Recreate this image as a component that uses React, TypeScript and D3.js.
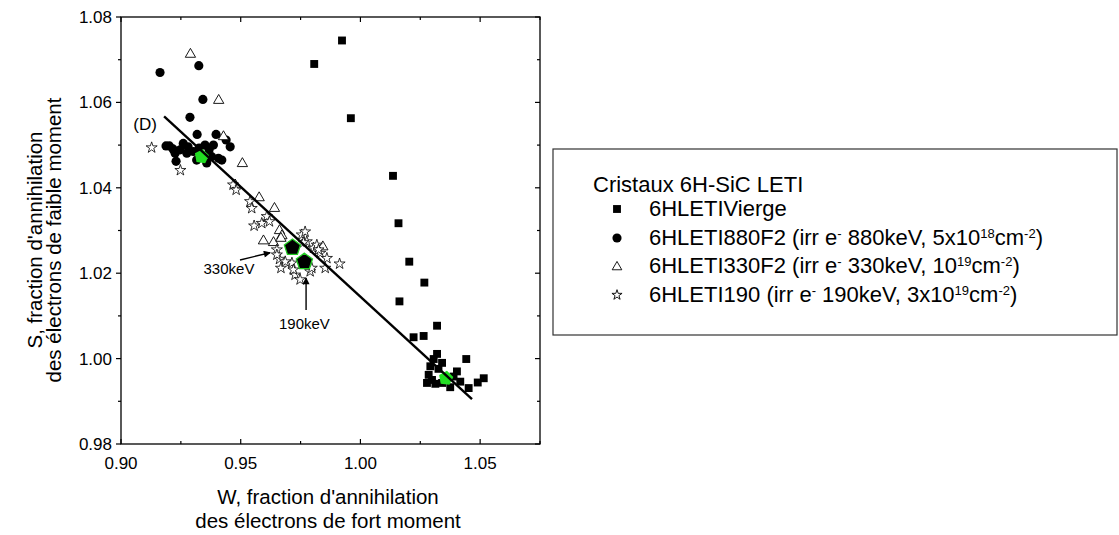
import React from "react";
import * as d3 from "d3";

// W (x) and S (y) values
const vierge: [number, number][] = [
  [0.9807, 1.069], [0.9923, 1.0745], [0.996, 1.0563], [1.0136, 1.0428], [1.0159, 1.0317],
  [1.0204, 1.0227], [1.0267, 1.0178], [1.0163, 1.0134], [1.032, 1.0077], [1.0222, 1.005],
  [1.0264, 1.0053], [1.0442, 0.9999], [1.032, 1.0011], [1.0306, 0.9999], [1.0341, 0.999],
  [1.0285, 0.9962], [1.0278, 0.9943], [1.0313, 0.9941], [1.0341, 0.9943], [1.0375, 0.9933],
  [1.0403, 0.997], [1.0417, 0.9946], [1.0452, 0.9931], [1.049, 0.9944], [1.0515, 0.9954],
  [1.0292, 0.9982], [1.0326, 0.9976], [1.0389, 0.9958], [1.0299, 0.995],
];
const irr880: [number, number][] = [
  [0.9163, 1.067], [0.9325, 1.0686], [0.9342, 1.0607], [0.9288, 1.0565], [0.9318, 1.0525],
  [0.9397, 1.0525], [0.9439, 1.0512], [0.9456, 1.0496], [0.9202, 1.0498], [0.9226, 1.0481],
  [0.923, 1.0462], [0.926, 1.0504], [0.9275, 1.0481], [0.9302, 1.0485], [0.9351, 1.05],
  [0.9386, 1.05], [0.9407, 1.0469], [0.9421, 1.0465], [0.9379, 1.0473], [0.9316, 1.0465],
  [0.9358, 1.0458], [0.9247, 1.0489], [0.928, 1.0496], [0.9326, 1.0493], [0.9368, 1.0489],
  [0.9188, 1.0498], [0.9217, 1.0491],
];
const irr330: [number, number][] = [
  [0.929, 1.0715], [0.9408, 1.0607], [0.9428, 1.0522], [0.9507, 1.0459], [0.9477, 1.0409],
  [0.9577, 1.0379], [0.9641, 1.0354], [0.9662, 1.0302], [0.9595, 1.0278], [0.9637, 1.0274],
  [0.9843, 1.0264], [0.9672, 1.029], [0.9668, 1.0284],
];
const irr190: [number, number][] = [
  [0.9128, 1.0494], [0.9248, 1.0441], [0.9468, 1.0407], [0.9481, 1.0395], [0.9539, 1.0368],
  [0.9546, 1.0352], [0.9609, 1.0333], [0.9588, 1.0317], [0.9556, 1.0311], [0.962, 1.0321],
  [0.9651, 1.0255], [0.9662, 1.0233], [0.9668, 1.0212], [0.9727, 1.0196], [0.979, 1.0204],
  [0.9755, 1.029], [0.9804, 1.0259], [0.9832, 1.0247], [0.986, 1.0235], [0.9853, 1.0212],
  [0.9913, 1.0222], [0.9714, 1.0224], [0.972, 1.0208], [0.9797, 1.0212], [0.9818, 1.0266],
  [0.9776, 1.0274], [0.9762, 1.0272], [0.9651, 1.0243], [0.9825, 1.0255], [0.9686, 1.0227],
  [0.9748, 1.0185], [0.9769, 1.0297],
];
// mean points
const meanEnds: [number, number][] = [[0.9337, 1.0473], [1.0357, 0.9954]];
const meanIrr: [number, number][] = [[0.9716, 1.026], [0.9766, 1.0227]];
// line (D)
const lineD: [number, number][] = [[0.918, 1.0567], [1.0466, 0.9905]];
// annotations: [label, textW, textS, fromW, fromS, toW, toS]
const annotations: [string, number, number, number, number, number, number][] = [
  ["330keV", 0.9451, 1.0197, 0.9497, 1.0231, 0.9623, 1.0248],
  ["190keV", 0.9766, 1.007, 0.9773, 1.0114, 0.9773, 1.0189],
];

const xMajor = [0.9, 0.95, 1.0, 1.05];
const xMinor = [0.925, 0.975, 1.025, 1.075];
const yMajor = [0.98, 1.0, 1.02, 1.04, 1.06, 1.08];
const yMinor = [0.99, 1.01, 1.03, 1.05, 1.07];

const legendTitle = "Cristaux 6H-SiC LETI";

const FONT = "'Liberation Sans', Arial, Helvetica, sans-serif";

export default function App() {
  const L = 121, R = 540, T = 17, B = 444;
  const x = d3.scaleLinear().domain([0.9, 1.075]).range([L, R]);
  const y = d3.scaleLinear().domain([0.98, 1.08]).range([B, T]);

  const sq = d3.symbol(d3.symbolSquare, 62)();
  const ci = d3.symbol(d3.symbolCircle, 66)();
  const tr = d3.symbol(d3.symbolTriangle, 46)();
  const st = d3.symbol(d3.symbolStar, 38)();
  const trL = d3.symbol(d3.symbolTriangle, 40)();
  const stL = d3.symbol(d3.symbolStar, 32)();

  const pent = (r: number) => {
    const pts: [number, number][] = d3.range(5).map((i) => {
      const a = -Math.PI / 2 + (i * 2 * Math.PI) / 5;
      return [r * Math.cos(a), r * Math.sin(a)];
    });
    return d3.line()(pts) + "Z";
  };

  const lineGen = d3.line<[number, number]>().x((d) => x(d[0])).y((d) => y(d[1]));
  const fmt = d3.format(".2f");

  const sup = (t: string) => (
    <tspan baselineShift="super" fontSize={13}>{t}</tspan>
  );

  const legX = 617, legTextX = 649;
  const legRows = [
    { y: 216, sym: "sq" },
    { y: 245, sym: "ci" },
    { y: 273, sym: "tr" },
    { y: 302, sym: "st" },
  ];

  return (
    <svg width={1119} height={535} style={{ position: "absolute", left: 0, top: 0, background: "#fff" }} fontFamily={FONT}>
      <defs>
        <marker id="arr" viewBox="0 0 10 10" refX="9" refY="5" markerWidth="9" markerHeight="7" markerUnits="userSpaceOnUse" orient="auto">
          <path d="M0,0 L10,5 L0,10 Z" fill="#000" />
        </marker>
      </defs>
      {/* frame */}
      <rect x={L} y={T} width={R - L} height={B - T} fill="none" stroke="#000" strokeWidth={1.3} />
      {/* ticks */}
      {xMajor.map((v) => (
        <g key={"xm" + v}>
          <line x1={x(v)} x2={x(v)} y1={B} y2={B - 5} stroke="#000" strokeWidth={1.2} />
          <line x1={x(v)} x2={x(v)} y1={T} y2={T + 5} stroke="#000" strokeWidth={1.2} />
          <text x={x(v)} y={469} textAnchor="middle" fontSize={17}>{fmt(v)}</text>
        </g>
      ))}
      {xMinor.map((v) => (
        <g key={"xn" + v}>
          <line x1={x(v)} x2={x(v)} y1={B} y2={B - 3} stroke="#000" strokeWidth={1.2} />
          <line x1={x(v)} x2={x(v)} y1={T} y2={T + 3} stroke="#000" strokeWidth={1.2} />
        </g>
      ))}
      {yMajor.map((v) => (
        <g key={"ym" + v}>
          <line x1={L} x2={L - 5} y1={y(v)} y2={y(v)} stroke="#000" strokeWidth={1.2} />
          <line x1={R} x2={R - 5} y1={y(v)} y2={y(v)} stroke="#000" strokeWidth={1.2} />
          <text x={112} y={y(v)} dy="0.35em" textAnchor="end" fontSize={17}>{fmt(v)}</text>
        </g>
      ))}
      {yMinor.map((v) => (
        <g key={"yn" + v}>
          <line x1={L} x2={L - 3} y1={y(v)} y2={y(v)} stroke="#000" strokeWidth={1.2} />
          <line x1={R} x2={R - 3} y1={y(v)} y2={y(v)} stroke="#000" strokeWidth={1.2} />
        </g>
      ))}
      {/* axis titles */}
      <text x={328} y={504} textAnchor="middle" fontSize={20.5}>W, fraction d'annihilation</text>
      <text x={328} y={528} textAnchor="middle" fontSize={20.5}>des électrons de fort moment</text>
      <g transform="translate(0,240) rotate(-90)">
        <text x={0} y={42} textAnchor="middle" fontSize={20.5}>S, fraction d'annihilation</text>
        <text x={0} y={61} textAnchor="middle" fontSize={20.5}>des électrons de faible moment</text>
      </g>

      {/* data */}
      {vierge.map((d, i) => (
        <path key={"v" + i} d={sq!} transform={`translate(${x(d[0])},${y(d[1])})`} fill="#000" />
      ))}
      {irr880.map((d, i) => (
        <path key={"c" + i} d={ci!} transform={`translate(${x(d[0])},${y(d[1])})`} fill="#000" />
      ))}
      {irr330.map((d, i) => (
        <path key={"t" + i} d={tr!} transform={`translate(${x(d[0])},${y(d[1]) + 1})`} fill="#fff" stroke="#000" strokeWidth={0.9} />
      ))}
      {irr190.map((d, i) => (
        <path key={"s" + i} d={st!} transform={`translate(${x(d[0])},${y(d[1])})`} fill="#fff" stroke="#000" strokeWidth={0.8} />
      ))}
      {/* mean points */}
      {meanEnds.map((d, i) => (
        <path key={"me" + i} d={pent(7.5)} transform={`translate(${x(d[0])},${y(d[1])}) rotate(8)`} fill="#22dd22" stroke="none" />
      ))}
      {meanIrr.map((d, i) => (
        <path key={"mi" + i} d={pent(8.5)} transform={`translate(${x(d[0])},${y(d[1])})`} fill="#000" stroke="#22cc22" strokeWidth={1.3} />
      ))}
      {/* line D */}
      <path d={lineGen(lineD)!} stroke="#000" strokeWidth={2.4} fill="none" />
      <text x={x(lineD[0][0]) - 19} y={y(lineD[0][1]) + 14} textAnchor="middle" fontSize={17}>(D)</text>

      {/* annotations */}
      {annotations.map((a) => (
        <g key={a[0]}>
          <line x1={x(a[3])} y1={y(a[4])} x2={x(a[5])} y2={y(a[6])} stroke="#000" strokeWidth={1.4} markerEnd="url(#arr)" />
          <text x={x(a[1])} y={y(a[2])} textAnchor="middle" fontSize={15}>{a[0]}</text>
        </g>
      ))}

      {/* legend */}
      <rect x={553} y={149} width={564} height={186} fill="#fff" stroke="#333" strokeWidth={1.2} />
      <text x={593} y={192} fontSize={22}>{legendTitle}</text>
      {legRows.map((r) => {
        const cy = r.y - 7;
        const d = r.sym === "sq" ? sq : r.sym === "ci" ? ci : r.sym === "tr" ? trL : stL;
        const filled = r.sym === "sq" || r.sym === "ci";
        return (
          <path key={r.sym} d={d!} transform={`translate(${legX},${cy + (r.sym === "tr" ? 1 : 0)})`} fill={filled ? "#000" : "#fff"} stroke={filled ? "none" : "#000"} strokeWidth={0.9} />
        );
      })}
      <text x={legTextX} y={216} fontSize={22}>6HLETIVierge</text>
      <text x={legTextX} y={245} fontSize={22}>
        6HLETI880F2 (irr e{sup("-")} 880keV, 5x10{sup("18")}cm{sup("-2")})
      </text>
      <text x={legTextX} y={273} fontSize={22}>
        6HLETI330F2 (irr e{sup("-")} 330keV, 10{sup("19")}cm{sup("-2")})
      </text>
      <text x={legTextX} y={302} fontSize={22}>
        6HLETI190 (irr e{sup("-")} 190keV, 3x10{sup("19")}cm{sup("-2")})
      </text>
    </svg>
  );
}
